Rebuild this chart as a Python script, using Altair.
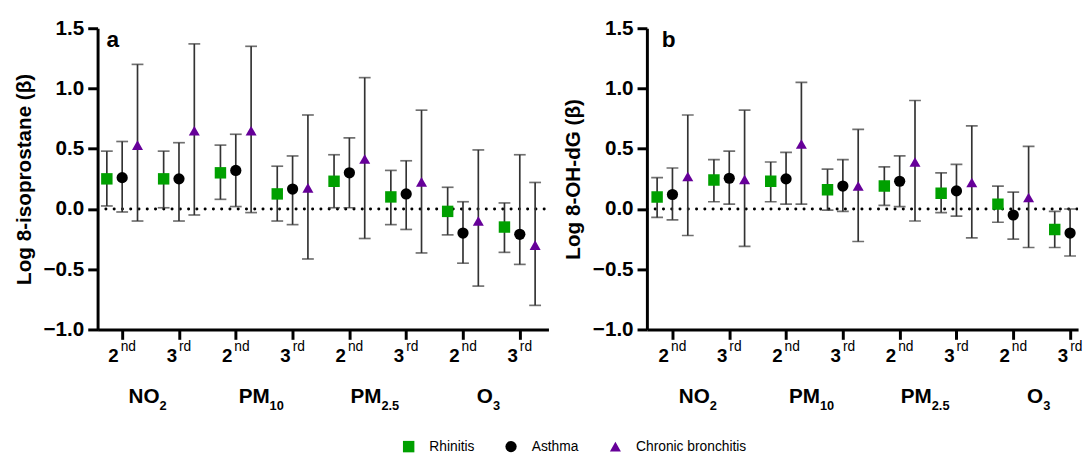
import altair as alt
import pandas as pd

FONT = "Liberation Sans"
GREEN = "#00a000"
PURPLE = "#660099"
BAR = "#333333"

# ---------------- data ----------------
pollutant_main = ["NO", "PM", "PM", "O"]
pollutant_sub = ["2", "10", "2.5", "3"]
tertile_base = ["2", "3"]
tertile_sup = ["nd", "rd"]
outcomes = ["Rhinitis", "Asthma", "Chronic bronchitis"]
shapes = ["square", "circle", "triangle-up"]
colors = [GREEN, "#000000", PURPLE]

# group order: NO2 2nd, NO2 3rd, PM10 2nd, PM10 3rd, PM2.5 2nd, PM2.5 3rd, O3 2nd, O3 3rd
# panel a: Log 8-isoprostane
iso_rhinitis = [0.25, 0.25, 0.30, 0.125, 0.23, 0.10, -0.02, -0.15]
iso_rhinitis_lo = [0.025, 0.01, 0.08, -0.10, 0.01, -0.13, -0.215, -0.36]
iso_rhinitis_hi = [0.48, 0.48, 0.53, 0.355, 0.45, 0.32, 0.18, 0.05]
iso_asthma = [0.26, 0.25, 0.32, 0.165, 0.30, 0.125, -0.20, -0.21]
iso_asthma_lo = [-0.025, -0.10, 0.02, -0.13, 0.01, -0.17, -0.45, -0.46]
iso_asthma_hi = [0.56, 0.55, 0.62, 0.44, 0.59, 0.40, 0.06, 0.45]
iso_cb = [0.53, 0.65, 0.65, 0.175, 0.415, 0.225, -0.10, -0.30]
iso_cb_lo = [-0.10, -0.05, -0.03, -0.415, -0.245, -0.365, -0.64, -0.80]
iso_cb_hi = [1.20, 1.37, 1.35, 0.78, 1.09, 0.82, 0.49, 0.22]

# panel b: Log 8-OH-dG
ohdg_rhinitis = [0.10, 0.24, 0.23, 0.16, 0.19, 0.13, 0.04, -0.17]
ohdg_rhinitis_lo = [-0.07, 0.06, 0.06, -0.01, 0.03, -0.03, -0.11, -0.32]
ohdg_rhinitis_hi = [0.26, 0.41, 0.39, 0.33, 0.35, 0.30, 0.19, -0.02]
ohdg_asthma = [0.12, 0.255, 0.25, 0.19, 0.23, 0.15, -0.05, -0.20]
ohdg_asthma_lo = [-0.09, 0.04, 0.04, -0.02, 0.02, -0.06, -0.25, -0.39]
ohdg_asthma_hi = [0.34, 0.48, 0.47, 0.41, 0.44, 0.37, 0.14, 0.00]
ohdg_cb = [0.27, 0.245, 0.54, 0.19, 0.39, 0.22, 0.095, -0.19]
ohdg_cb_lo = [-0.22, -0.31, 0.04, -0.27, -0.10, -0.24, -0.32, -0.58]
ohdg_cb_hi = [0.78, 0.82, 1.05, 0.66, 0.90, 0.69, 0.52, 0.22]

y_ticks = [-1.0, -0.5, 0.0, 0.5, 1.0, 1.5]

# ---------------- layout ----------------
H = 306
PPU = 57.7
W_A, W_B = 458, 438
XDOM_A = [0.567, 0.567 + W_A / PPU]
XDOM_B = [0.55, 0.55 + W_B / PPU]   # panel b is cut at the right edge, as in the original
OFFSETS = [-0.27, 0.0, 0.27]

BOLD_W = {"N": .722, "O": .778, "P": .667, "M": .833, ".": .278}
REG_W = {"n": .556, "d": .556, "r": .333}


def tw(s, table, size):
    return sum(table.get(c, 0.556) for c in s) * size


def points_df(est, lo, hi):
    rows = []
    for k, name in enumerate(outcomes):
        for i in range(8):
            rows.append(dict(outcome=name, x=i + 1 + OFFSETS[k],
                             est=est[k][i], lo=lo[k][i], hi=hi[k][i]))
    return pd.DataFrame(rows)


def tert_df(ppu):
    rows = []
    for i in range(8):
        t = i % 2
        b, s = tertile_base[t], tertile_sup[t]
        wb, ws, gap = tw(b, BOLD_W, 19), tw(s, REG_W, 14), 2.0
        d = (wb - gap - ws) / 2
        rows.append(dict(bx=i + 1 + d / ppu, sx=i + 1 + (d + gap) / ppu,
                         base=b, sup=s, yb=-1.0))
    return pd.DataFrame(rows)


def group_df(ppu):
    rows = []
    for g in range(4):
        c = 2 * g + 1.5
        wm = tw(pollutant_main[g], BOLD_W, 21)
        ws = tw(pollutant_sub[g], BOLD_W, 13)
        rows.append(dict(gx=c + (wm - ws) / 2 / ppu - 3 / ppu, main=pollutant_main[g],
                         sub=pollutant_sub[g], yb=-1.0))
    return pd.DataFrame(rows)


legend = alt.Legend(title=None, orient="none", legendX=309, legendY=418,
                    direction="horizontal", symbolSize=110, symbolStrokeWidth=0,
                    labelFont=FONT, labelFontSize=14, labelColor="black",
                    labelOffset=14, columnPadding=30, padding=0)


def panel(est, lo, hi, letter, ytitle, xdom, width, letter_dx, clip):
    ppu = width / (xdom[1] - xdom[0])
    xs = alt.Scale(domain=xdom, nice=False, zero=False)
    ys = alt.Scale(domain=[-1, 1.5], nice=False, zero=False)
    xaxis = alt.Axis(values=list(range(1, 9)), labels=False, title=None, grid=False,
                     domainColor="black", domainWidth=3, tickColor="black",
                     tickWidth=3, tickSize=10)
    yaxis = alt.Axis(values=y_ticks, format=".1f", title=ytitle, grid=False,
                     domainColor="black", domainWidth=3, tickColor="black",
                     tickWidth=3, tickSize=10, labelFont=FONT, labelFontSize=21,
                     labelFontWeight="bold", labelColor="black", labelPadding=4,
                     titleFont=FONT, titleFontSize=21, titleFontWeight="bold",
                     titleColor="black", titlePadding=9)

    def X(f):
        return alt.X(f, type="quantitative", scale=xs, axis=xaxis)

    def Y(f):
        return alt.Y(f, type="quantitative", scale=ys, axis=yaxis)

    df = points_df(est, lo, hi)
    base = alt.Chart(df)

    zero = alt.Chart(pd.DataFrame({"x0": [xdom[0]], "x1": [xdom[1]], "z": [0.0]})).mark_rule(
        color="black", strokeWidth=3, strokeDash=[0.1, 8.3], strokeCap="round", clip=True
    ).encode(x=X("x0"), x2="x1", y=Y("z"))

    bars = base.mark_rule(color=BAR, strokeWidth=1.7, clip=clip).encode(
        x=X("x"), y=Y("lo"), y2="hi")
    cap_hi = base.mark_tick(color=BAR, orient="horizontal", size=12, thickness=1.7,
                            clip=clip).encode(x=X("x"), y=Y("hi"))
    cap_lo = base.mark_tick(color=BAR, orient="horizontal", size=12, thickness=1.7,
                            clip=clip).encode(x=X("x"), y=Y("lo"))
    pts = base.mark_point(filled=True, opacity=1, strokeWidth=0,
                          clip=clip).encode(
        x=X("x"), y=Y("est"),
        color=alt.Color("outcome:N", scale=alt.Scale(domain=outcomes, range=colors),
                        legend=legend),
        shape=alt.Shape("outcome:N", scale=alt.Scale(domain=outcomes, range=shapes),
                        legend=legend),
        size=alt.Size("outcome:N", scale=alt.Scale(domain=outcomes, range=[135, 125, 170]),
                      legend=None),
    )

    tdf = alt.Chart(tert_df(ppu))
    t_base = tdf.mark_text(align="right", baseline="alphabetic", dy=33, font=FONT,
                           fontSize=19, fontWeight="bold", color="black").encode(
        x=X("bx"), y=Y("yb"), text="base:N")
    t_sup = tdf.mark_text(align="left", baseline="alphabetic", dy=22, font=FONT,
                          fontSize=14, color="black").encode(
        x=X("sx"), y=Y("yb"), text="sup:N")

    gdf = alt.Chart(group_df(ppu))
    g_main = gdf.mark_text(align="right", baseline="alphabetic", dy=75, font=FONT,
                           fontSize=21, fontWeight="bold", color="black").encode(
        x=X("gx"), y=Y("yb"), text="main:N")
    g_sub = gdf.mark_text(align="left", baseline="alphabetic", dy=82, font=FONT,
                          fontSize=13, fontWeight="bold", color="black").encode(
        x=X("gx"), y=Y("yb"), text="sub:N")

    let = alt.Chart(pd.DataFrame({"lx": [xdom[0]], "ly": [1.5], "t": [letter]})).mark_text(
        align="left", baseline="alphabetic", dx=letter_dx, dy=19, font=FONT,
        fontSize=23, fontWeight="bold", color="black").encode(
        x=X("lx"), y=Y("ly"), text="t:N")

    return alt.layer(zero, bars, cap_hi, cap_lo, pts, t_base, t_sup, g_main, g_sub,
                     let).properties(width=width, height=H)


pa = panel([iso_rhinitis, iso_asthma, iso_cb],
           [iso_rhinitis_lo, iso_asthma_lo, iso_cb_lo],
           [iso_rhinitis_hi, iso_asthma_hi, iso_cb_hi],
           "a", "Log 8-isoprostane (β)", XDOM_A, W_A, 9, False)
pb = panel([ohdg_rhinitis, ohdg_asthma, ohdg_cb],
           [ohdg_rhinitis_lo, ohdg_asthma_lo, ohdg_cb_lo],
           [ohdg_rhinitis_hi, ohdg_asthma_hi, ohdg_cb_hi],
           "b", "Log 8-OH-dG (β)", XDOM_B, W_B, 15, True)

chart = alt.hconcat(pa, pb, spacing=14).resolve_scale(
    color="shared", shape="shared", size="shared").resolve_legend(
    color="shared", shape="shared").properties(
    padding={"left": 5, "top": 6, "right": 0, "bottom": 0}
).configure_view(stroke=None)

chart.save("out.html", embed_options={"renderer": "svg", "actions": False})
